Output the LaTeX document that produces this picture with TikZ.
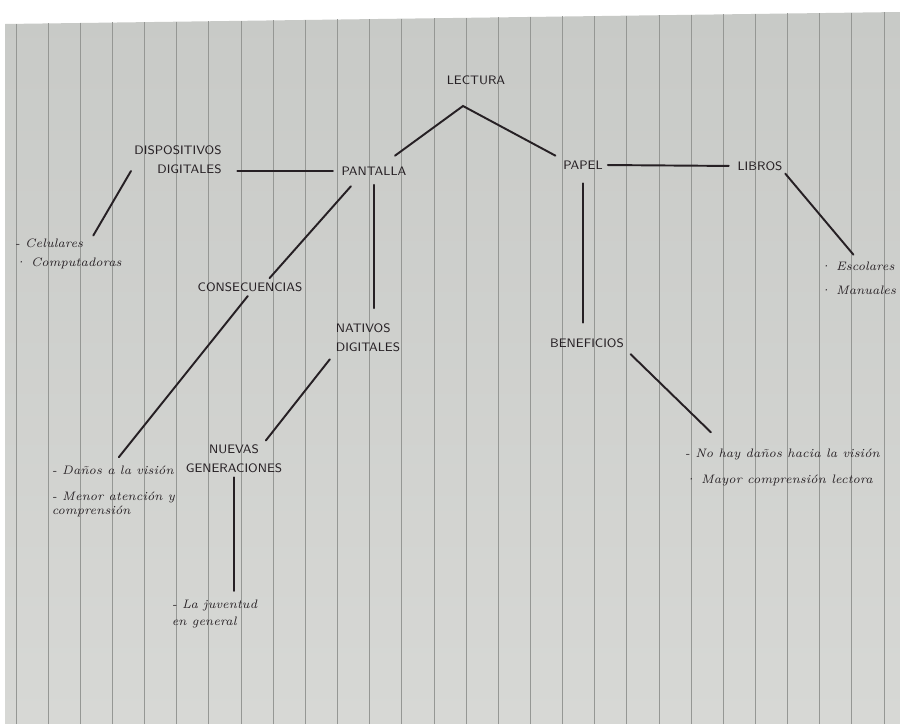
\documentclass[tikz,border=0pt]{standalone}
\usepackage{fontspec}
\definecolor{tinta}{HTML}{262024}
\definecolor{hojaA}{HTML}{C8CAC7}
\definecolor{hojaB}{HTML}{D7D8D5}
\definecolor{regla}{HTML}{959794}

\begin{document}
\begin{tikzpicture}[x=0.02cm,y=-0.02cm,
  titulo/.style={font=\sffamily\fontsize{7}{10.8}\selectfont,text=tinta,inner sep=1pt,outer sep=0pt},
  nota/.style={font=\itshape\fontsize{7}{8}\selectfont,text=tinta,inner sep=1pt,outer sep=0pt,align=left,anchor=north west},
  trazo/.style={draw=tinta,line width=1.1pt,line cap=round}]

\useasboundingbox (0,0) rectangle (900,724);
% hoja rayada
\fill[white] (0,0) rectangle (900,724);
\shade[top color=hojaA,bottom color=hojaB] (5,24) -- (900,12) -- (900,724) -- (5,724) -- cycle;
\foreach \i in {0,...,27}
  \draw[regla,line width=0.5pt] ({16+32.15*\i},{24-0.0134*(16+32.15*\i)}) -- ({16+32.15*\i},724);

\coordinate (L) at (476,80);
\coordinate (A) at (463,106);
\coordinate (P) at (374,171);
\coordinate (D) at (178,160);
\coordinate (Q) at (583,165);
\coordinate (B) at (760,166);
\coordinate (K) at (250,287);
\coordinate (N) at (368,338);
\coordinate (G) at (234,459);
\coordinate (F) at (587,343);
\coordinate (C) at (13,237);
\coordinate (V) at (50,464);
\coordinate (J) at (170,598);
\coordinate (M) at (683,447);
\coordinate (E) at (818,260);

\node[titulo] (L1) at (L) {LECTURA};
\node[titulo] (P1) at (P) {PANTALLA};
\node[titulo,align=right] (D1) at (D) {DISPOSITIVOS\\DIGITALES};
\node[titulo] (Q1) at (Q) {PAPEL};
\node[titulo] (B1) at (B) {LIBROS};
\node[titulo] (K1) at (K) {CONSECUENCIAS};
\node[titulo,align=left] (N1) at (N) {NATIVOS\\DIGITALES};
\node[titulo,align=center] (G1) at (G) {NUEVAS\\GENERACIONES};
\node[titulo] (F1) at (F) {BENEFICIOS};

\node[nota] (C1) at (C) {- Celulares\\[3pt]· Computadoras};
\node[nota] (V1) at (V) {- Daños a la visión\\[7pt]- Menor atención y\\comprensión};
\node[nota] (J1) at (J) {- La juventud\\[2pt]en general};
\node[nota] (M1) at (M) {- No hay daños hacia la visión\\[7pt]· Mayor comprensión lectora};
\node[nota] (E1) at (E) {· Escolares\\[6pt]· Manuales};

\draw[trazo,shorten <=9pt,shorten >=4pt] (P1) -- (A) -- (Q1.north west);
\draw[trazo,shorten <=4pt,shorten >=8pt] (P1.west) -- (P1.west -| D1.east);
\draw[trazo,shorten <=2pt,shorten >=1pt] (D1.190) -- (C1.35);
\draw[trazo,shorten <=7pt,shorten >=2pt] (P1.-158) -- (K1.20);
\draw[trazo,shorten <=2pt,shorten >=5pt] (K1.south) -- (V1.north);
\draw[trazo,shorten <=4.5pt,shorten >=8pt] (P1.south) -- (P1.south |- N1.north);
\draw[trazo,shorten <=4pt,shorten >=2pt] (N1.south west) -- (G1.28);
\draw[trazo,shorten <=1.5pt,shorten >=4pt] (G1.south) -- (G1.south |- J1.north);
\draw[trazo,shorten <=2pt,shorten >=4pt] (Q1.east) -- (B1.west);
\draw[trazo,shorten <=1pt,shorten >=4pt] (B1.south east) -- (E1.north);
\draw[trazo,shorten <=7pt,shorten >=8pt] (Q1.south) -- (Q1.south |- F1.north);
\draw[trazo,shorten <=4pt,shorten >=12pt] (F1.south east) -- (M1.160);

\end{tikzpicture}
\end{document}
